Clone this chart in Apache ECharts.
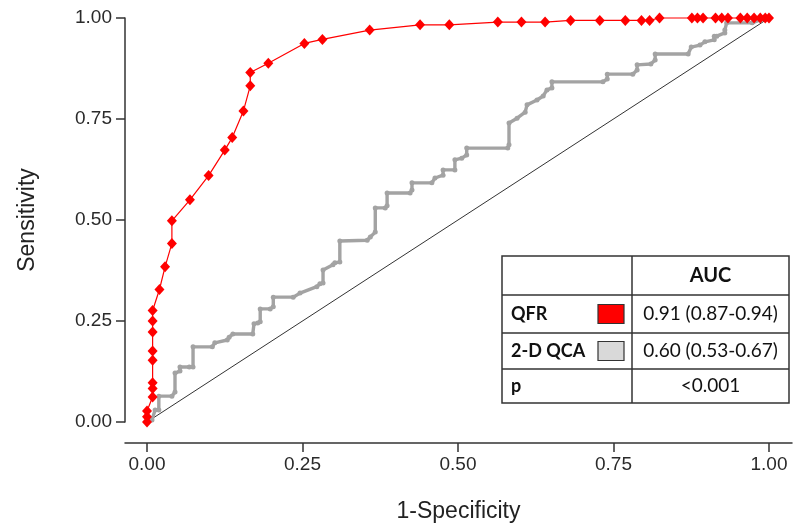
<!DOCTYPE html>
<html>
<head>
<meta charset="utf-8">
<script src="https://cdn.jsdelivr.net/npm/echarts@6/dist/echarts.min.js"></script>
<style>html,body{margin:0;padding:0;background:#fff}#c{width:793px;height:529px}</style>
</head>
<body>
<div id="c"></div>
<script>
// ---- data ----
const xTicks = [0, 0.25, 0.5, 0.75, 1];
const yTicks = [0, 0.25, 0.5, 0.75, 1];

const qfrFpr = [0,0,0,0.009,0.009,0.009,0.009,0.009,0.009,0.009,0.009,0.020,0.029,0.040,0.040,0.069,0.099,0.125,0.137,0.155,0.166,0.166,0.195,0.253,0.282,0.358,0.439,0.486,0.564,0.602,0.640,0.681,0.728,0.769,0.795,0.808,0.824,0.876,0.885,0.894,0.914,0.924,0.934,0.954,0.965,0.976,0.986,0.994,1.0];
const qfrTpr = [0,0.013,0.027,0.062,0.083,0.097,0.153,0.176,0.223,0.250,0.276,0.328,0.384,0.442,0.498,0.550,0.610,0.673,0.704,0.770,0.832,0.865,0.888,0.937,0.947,0.970,0.983,0.983,0.990,0.990,0.990,0.994,0.994,0.994,0.994,0.994,1.0,1.0,1.0,1.0,1.0,1.0,1.0,1.0,1.0,1.0,1.0,1.0,1.0];

const qcaFpr = [0,0.008,0.013,0.019,0.019,0.040,0.045,0.045,0.053,0.053,0.068,0.074,0.074,0.105,0.109,0.129,0.132,0.138,0.170,0.172,0.178,0.182,0.182,0.198,0.203,0.203,0.235,0.246,0.273,0.278,0.283,0.283,0.299,0.302,0.310,0.310,0.354,0.359,0.367,0.367,0.383,0.386,0.386,0.423,0.426,0.426,0.458,0.463,0.476,0.476,0.495,0.495,0.506,0.514,0.514,0.580,0.582,0.582,0.595,0.608,0.611,0.627,0.637,0.643,0.651,0.651,0.733,0.740,0.740,0.781,0.788,0.788,0.810,0.817,0.817,0.870,0.875,0.889,0.897,0.912,0.912,0.916,0.929,0.929,0.932,0.973,0.986,1.0];
const qcaTpr = [0,0.005,0.030,0.030,0.064,0.064,0.074,0.121,0.126,0.136,0.136,0.136,0.186,0.186,0.196,0.203,0.210,0.218,0.218,0.243,0.245,0.248,0.280,0.280,0.285,0.309,0.309,0.319,0.335,0.342,0.344,0.376,0.389,0.394,0.396,0.448,0.450,0.458,0.470,0.530,0.530,0.535,0.567,0.567,0.574,0.592,0.592,0.604,0.611,0.624,0.624,0.649,0.653,0.661,0.678,0.678,0.686,0.740,0.752,0.767,0.785,0.797,0.807,0.822,0.827,0.842,0.842,0.849,0.861,0.861,0.871,0.884,0.886,0.896,0.911,0.911,0.928,0.933,0.941,0.946,0.955,0.955,0.963,0.970,0.988,0.988,0.995,1.0];

const diagX = [0, 1];
const diagY = [0, 1];

const tableHeader = 'AUC';
const tableRowLabels = ['QFR', '2-D QCA', 'p'];
const tableRowValues = ['0.91 (0.87-0.94)', '0.60 (0.53-0.67)', '<0.001'];
const swatchColors = ['#ff0000', '#d9d9d9', null];

// ---- chart ----
const zip = (a, b) => a.map((v, i) => [v, b[i]]);
const fmt = v => Number(v).toFixed(2);
const axisColor = '#333';
const font = 'Liberation Sans, Arial, sans-serif';
const tFont = 'Lato, Open Sans, sans-serif';

// table geometry
const tL = 502, tR = 789, tC = 632;
const rowY = [256, 295, 333, 369, 403];
const graphic = [];
graphic.push({type:'rect', shape:{x:tL, y:rowY[0], width:tR-tL, height:rowY[4]-rowY[0]}, style:{fill:'#fff', stroke:axisColor, lineWidth:1.5}, z:100});
for (let i = 1; i < 4; i++) {
  graphic.push({type:'line', shape:{x1:tL, y1:rowY[i], x2:tR, y2:rowY[i]}, style:{stroke:axisColor, lineWidth:1.5}, z:101});
}
graphic.push({type:'line', shape:{x1:tC, y1:rowY[0], x2:tC, y2:rowY[4]}, style:{stroke:axisColor, lineWidth:1.5}, z:101});
graphic.push({type:'text', x:(tC+tR)/2, y:(rowY[0]+rowY[1])/2, style:{text:tableHeader, font:'bold 20px ' + tFont, fill:'#111', align:'center', verticalAlign:'middle'}, z:102});
tableRowLabels.forEach((lab, i) => {
  const cy = (rowY[i+1] + rowY[i+2]) / 2;
  graphic.push({type:'text', x:511, y:cy, style:{text:lab, font:'bold 18px ' + tFont, fill:'#111', align:'left', verticalAlign:'middle'}, z:102});
  graphic.push({type:'text', x:(tC+tR)/2, y:cy, style:{text:tableRowValues[i], font:'19px ' + tFont, fill:'#111', align:'center', verticalAlign:'middle'}, z:102});
  if (swatchColors[i]) {
    graphic.push({type:'rect', shape:{x:598, y:cy-9.5, width:26, height:19}, style:{fill:swatchColors[i], stroke:'#333', lineWidth:1.2}, z:102});
  }
});

const chart = echarts.init(document.getElementById('c'), null, {renderer:'canvas'});
chart.setOption({
  animation: false,
  backgroundColor: '#fff',
  grid: {left:125, right:1, top:18, bottom:107},
  xAxis: {
    type:'value', min:-0.0354, max:1.037, offset:21,
    axisLine:{show:true, onZero:false, lineStyle:{color:axisColor, width:1.5}},
    axisTick:{show:true, length:9, customValues:xTicks, lineStyle:{color:axisColor, width:1.5}},
    axisLabel:{customValues:xTicks, formatter:fmt, fontSize:19, color:'#2a2a2a', margin:12, fontFamily:font},
    splitLine:{show:false},
    name:'1-Specificity', nameLocation:'middle', nameGap:57,
    nameTextStyle:{fontSize:23, color:'#222', fontFamily:font}
  },
  yAxis: {
    type:'value', min:0, max:1, interval:0.25,
    axisLine:{show:true, onZero:false, lineStyle:{color:axisColor, width:1.5}},
    axisTick:{show:true, length:9, lineStyle:{color:axisColor, width:1.5}},
    axisLabel:{formatter:fmt, fontSize:19, color:'#2a2a2a', margin:13, fontFamily:font},
    splitLine:{show:false},
    name:'Sensitivity', nameLocation:'middle', nameGap:86, nameRotate:90,
    nameTextStyle:{fontSize:23, color:'#222', fontFamily:font}
  },
  series: [
    {type:'line', data:zip(diagX, diagY), symbol:'none', lineStyle:{color:'#333', width:1}, clip:false, z:1},
    {type:'line', data:zip(qcaFpr, qcaTpr), symbol:'circle', symbolSize:5, itemStyle:{color:'#a3a3a3'}, lineStyle:{color:'#a3a3a3', width:3.4}, clip:false, z:2},
    {type:'line', data:zip(qfrFpr, qfrTpr), symbol:'diamond', symbolSize:[10,11], itemStyle:{color:'#ff0000'}, lineStyle:{color:'#ff0000', width:1.2}, clip:false, z:3}
  ],
  graphic: graphic
});
</script>
</body>
</html>
